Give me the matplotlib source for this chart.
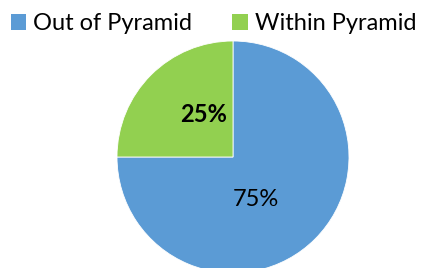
import matplotlib
matplotlib.use("Agg")
import matplotlib.pyplot as plt
from matplotlib.patches import Patch

categories = ["Out of Pyramid", "Within Pyramid"]
values = [75, 25]
colors = ["#5B9BD5", "#92D050"]
labels = ["75%", "25%"]

W, H = 423, 268
fig = plt.figure(figsize=(W / 100, H / 100), dpi=100)
plt.rcParams['font.family'] = ['Lato', 'DejaVu Sans']

cx, cy, r = 233, 157, 116
ax = fig.add_axes([(cx - r) / W, (H - cy - r) / H, 2 * r / W, 2 * r / H])
wedges, _ = ax.pie(values, colors=colors, startangle=90, counterclock=False,
                   radius=1, wedgeprops=dict(linewidth=0.6, edgecolor="white"))
for w in wedges:
    w.set_clip_on(False)
ax.set_xlim(-1, 1)
ax.set_ylim(-1, 1)
ax.set_aspect('equal')
ax.axis('off')

# data labels (Excel-style placement)
ax.text(23 / r, -42 / r, labels[0], ha='center', va='center', fontsize=17, color='black')
ax.text(-29 / r, 43 / r, labels[1], ha='center', va='center', fontsize=17,
        fontweight='bold', color='black')

handles = [Patch(facecolor=c, edgecolor='none') for c in colors]
fig.legend(handles, categories, loc='upper center', bbox_to_anchor=(0.505, 0.95),
           ncol=2, frameon=False, fontsize=17, handlelength=0.65, handleheight=0.65,
           handletextpad=0.3, columnspacing=1.7, borderaxespad=0, borderpad=0)

fig.savefig("out.png", dpi=100)
